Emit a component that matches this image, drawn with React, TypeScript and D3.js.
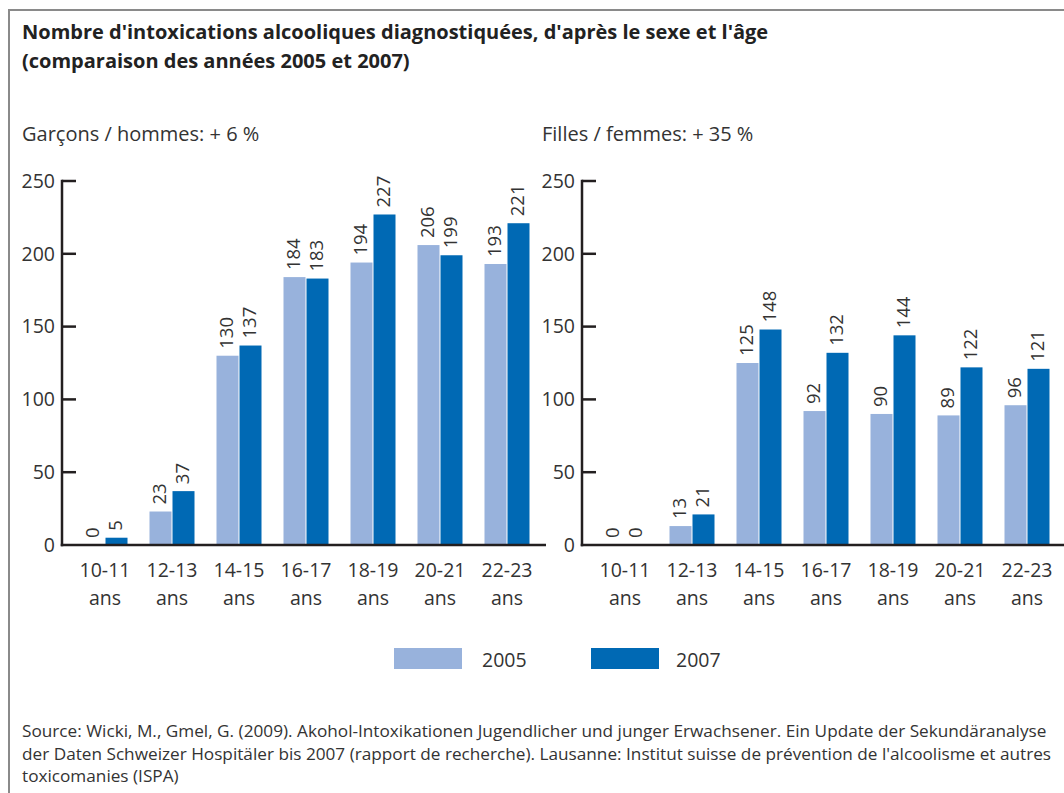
import React from "react";
import * as d3 from "d3";

const categories = ["10-11", "12-13", "14-15", "16-17", "18-19", "20-21", "22-23"];
const years = ["2005", "2007"];
const boys2005 = [0, 23, 130, 184, 194, 206, 193];
const boys2007 = [5, 37, 137, 183, 227, 199, 221];
const girls2005 = [0, 13, 125, 92, 90, 89, 96];
const girls2007 = [0, 21, 148, 132, 144, 122, 121];
const yTicks = [0, 50, 100, 150, 200, 250];

const titleLines = [
  "Nombre d'intoxications alcooliques diagnostiquées, d'après le sexe et l'âge",
  "(comparaison des années 2005 et 2007)",
];
const panelTitles = ["Garçons / hommes: + 6 %", "Filles / femmes: + 35 %"];
const sourceLines = [
  "Source: Wicki, M., Gmel, G. (2009). Akohol-Intoxikationen Jugendlicher und junger Erwachsener. Ein Update der Sekundäranalyse",
  "der Daten Schweizer Hospitäler bis 2007 (rapport de recherche). Lausanne: Institut suisse de prévention de l'alcoolisme et autres",
  "toxicomanies (ISPA)",
];

const COLORS = ["#98b2dc", "#0069b4"];
const TEXT = "#333333";
const AXIS = "#231f20";
const FONT = "'Open Sans', 'Noto Sans', sans-serif";

const y = d3.scaleLinear().domain([0, 250]).range([545, 181]);

function Panel({ axisX, axisEnd, title, series }: { axisX: number; axisEnd: number; title: string; series: number[][] }) {
  const p = 22 / 67;
  const x = d3
    .scaleBand<string>()
    .domain(categories)
    .range([axisX + 9.5, axisX + 478.5])
    .paddingInner(p)
    .paddingOuter(p / 2);
  const xi = d3.scaleBand<string>().domain(years).range([0, x.bandwidth()]).paddingInner(1 / 23);
  return (
    <g>
      <text x={axisX - 40} y={141} fontSize={20} fill={TEXT} fontFamily={FONT}>
        {title}
      </text>
      {categories.map((c, i) =>
        years.map((yr, j) => {
          const v = series[j][i];
          const bx = (x(c) as number) + (xi(yr) as number);
          const cx = bx + xi.bandwidth() / 2 - 1;
          const ty = y(v) - 7;
          return (
            <g key={c + yr}>
              <rect x={bx} y={y(v)} width={xi.bandwidth()} height={y(0) - y(v)} fill={COLORS[j]} />
              <text
                transform={`translate(${cx},${ty}) rotate(-90)`}
                dy="0.36em"
                fontSize={18.5}
                fill={TEXT}
                fontFamily={FONT}
                textAnchor="start"
              >
                {v}
              </text>
            </g>
          );
        })
      )}
      {categories.map((c) => {
        const cx = (x(c) as number) + x.bandwidth() / 2;
        return (
          <text key={c} x={cx} textAnchor="middle" fontSize={19.5} fill={TEXT} fontFamily={FONT}>
            <tspan x={cx} y={577}>{c}</tspan>
            <tspan x={cx} y={605}>ans</tspan>
          </text>
        );
      })}
      {yTicks.map((t) => (
        <g key={t}>
          {t > 0 && <line x1={axisX} x2={axisX + 14} y1={y(t)} y2={y(t)} stroke={AXIS} strokeWidth={2.5} />}
          <text x={axisX - 7} y={y(t)} dy="0.35em" textAnchor="end" fontSize={19.5} fill={TEXT} fontFamily={FONT}>
            {t}
          </text>
        </g>
      ))}
      <line x1={axisX} x2={axisX} y1={y(250) - 1.25} y2={y(0) + 1.25} stroke={AXIS} strokeWidth={2.5} />
      <line x1={axisX - 1.25} x2={axisEnd} y1={y(0)} y2={y(0)} stroke={AXIS} strokeWidth={2.5} />
    </g>
  );
}

export default function App() {
  return (
    <svg
      width={1064}
      height={793}
      style={{ position: "absolute", left: 0, top: 0, background: "#fff" }}
    >
      <rect x={0} y={0} width={1064} height={793} fill="#fff" />
      <path d="M9,800 V10 H1070" fill="none" stroke="#8a8a8a" strokeWidth={2} />
      {titleLines.map((l, i) => (
        <text key={i} x={22} y={39 + i * 29} fontSize={20} fontWeight="bold" fill="#222" fontFamily={FONT}>
          {l}
        </text>
      ))}
      <Panel axisX={62} axisEnd={546} title={panelTitles[0]} series={[boys2005, boys2007]} />
      <Panel axisX={582} axisEnd={1066} title={panelTitles[1]} series={[girls2005, girls2007]} />
      {years.map((yr, j) => (
        <g key={yr}>
          <rect x={394 + j * 197} y={648} width={68} height={21} fill={COLORS[j]} />
          <text x={482 + j * 194} y={667} fontSize={19.5} fill={TEXT} fontFamily={FONT}>
            {yr}
          </text>
        </g>
      ))}
      {sourceLines.map((l, i) => (
        <text key={i} x={22} y={737 + i * 22.5} fontSize={17.2} fill={TEXT} fontFamily={FONT}>
          {l}
        </text>
      ))}
    </svg>
  );
}
